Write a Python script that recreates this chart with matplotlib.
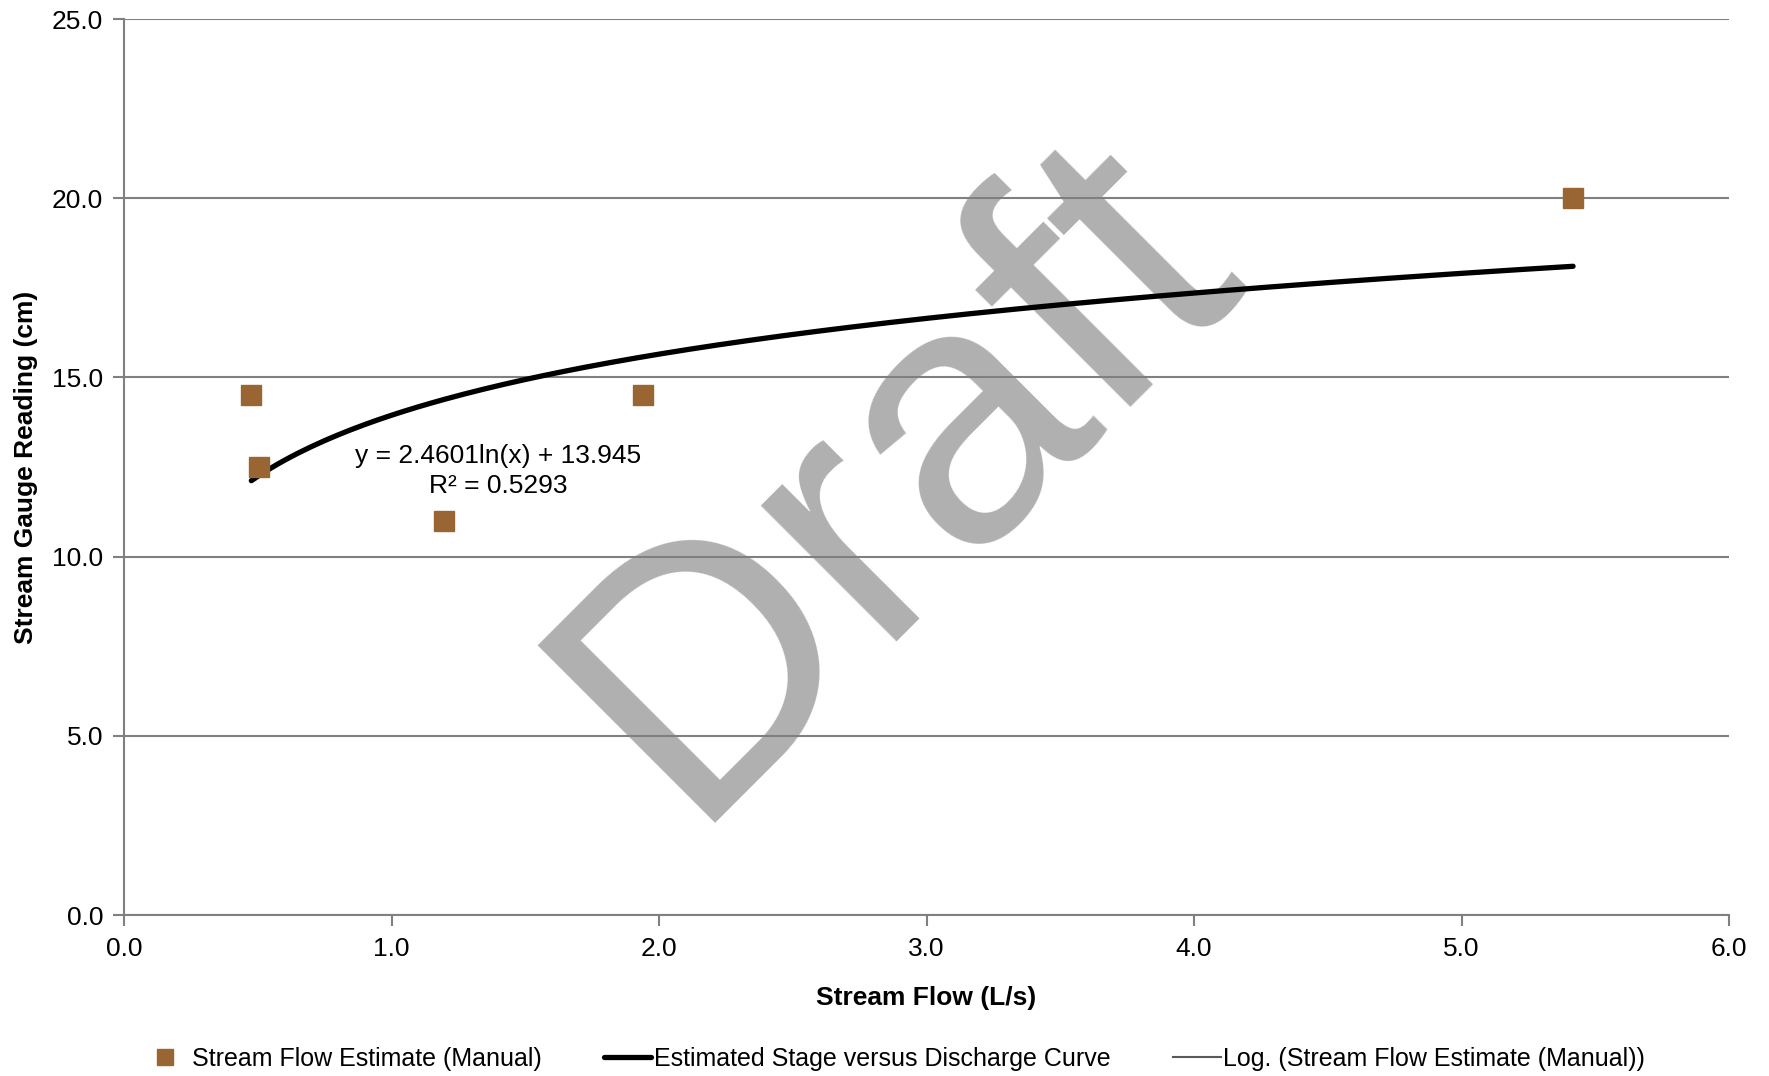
import numpy as np
import matplotlib
matplotlib.use("Agg")
import matplotlib.pyplot as plt

plt.rcParams['font.family'] = ['Liberation Sans', 'DejaVu Sans']

# manual stream flow estimates
flow = [0.476, 0.506, 1.197, 1.94, 5.417]
gauge = [14.5, 12.5, 11.0, 14.5, 20.0]

# log fit shown on the chart
coef_a = 2.4601
coef_b = 13.945
r2 = 0.5293

xticks = [0.0, 1.0, 2.0, 3.0, 4.0, 5.0, 6.0]
yticks = [0.0, 5.0, 10.0, 15.0, 20.0, 25.0]

fig = plt.figure(figsize=(17.69, 10.76), dpi=100)
ax = fig.add_axes([0.0701, 0.1496, 0.9073, 0.8327])

xc = np.linspace(min(flow), max(flow), 200)
yc = coef_a * np.log(xc) + coef_b

ax.plot(flow, gauge, 's', color='#996633', markersize=14.5, zorder=4,
        label='Stream Flow Estimate (Manual)')
ax.plot(xc, yc, color='black', lw=3.8, solid_capstyle='round', zorder=3,
        label='Estimated Stage versus Discharge Curve')
ax.plot(xc, yc, color='#595959', lw=1.5, zorder=2.9,
        label='Log. (Stream Flow Estimate (Manual))')

ax.text(1.40, 12.38, f'y = {coef_a}ln(x) + {coef_b}\nR² = {r2}', ha='center', va='center',
        fontsize=19, linespacing=1.3, zorder=5)

# watermark
ax.text(0.482, 0.488, 'Draft', transform=ax.transAxes, rotation=45, ha='center', va='center',
        fontsize=262, color='#7f7f7f', alpha=0.62, zorder=2.5)

ax.set_xlim(0, 6)
ax.set_ylim(0, 25)
ax.set_xticks(xticks)
ax.set_yticks(yticks)
ax.set_xticklabels([f'{v:.1f}' for v in xticks])
ax.set_yticklabels([f'{v:.1f}' for v in yticks])
ax.tick_params(axis='both', labelsize=19, color='#808080', width=1.5, length=8, direction='out')
ax.tick_params(axis='x', pad=8)
ax.tick_params(axis='y', pad=7)
ax.yaxis.grid(True, color='#808080', lw=1.5, zorder=1)
ax.set_axisbelow(True)
for s in ['top', 'right']:
    ax.spines[s].set_visible(False)
for s in ['left', 'bottom']:
    ax.spines[s].set_color('#808080')
    ax.spines[s].set_linewidth(1.5)

ax.set_xlabel('Stream Flow (L/s)', fontsize=19, fontweight='bold', labelpad=18)
ax.set_ylabel('Stream Gauge Reading (cm)', fontsize=19, fontweight='bold', labelpad=10)

fig.legend(loc='center', bbox_to_anchor=(0.505, 0.016), ncol=3, frameon=False, fontsize=18,
           handlelength=1.9, handletextpad=0.1, columnspacing=2.5, markerscale=0.75)

fig.savefig('out.png', dpi=100)
